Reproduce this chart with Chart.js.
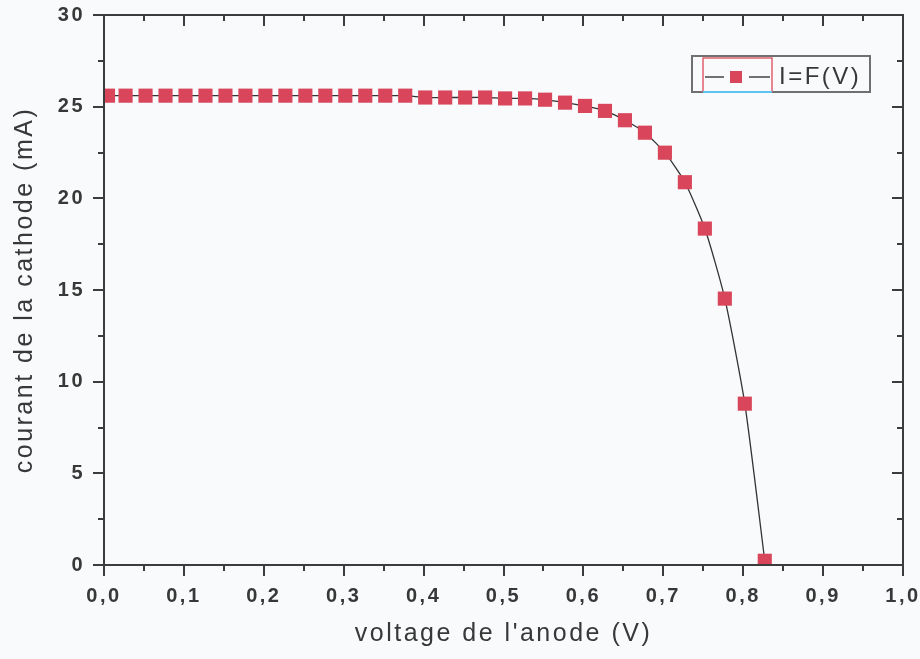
<!DOCTYPE html>
<html>
<head>
<meta charset="utf-8">
<script src="https://cdn.jsdelivr.net/npm/chart.js@4/dist/chart.umd.min.js"></script>
<style>
  html, body { margin: 0; padding: 0; background: #f9fafb; }
  #wrap { width: 920px; height: 659px; }
</style>
</head>
<body>
<div id="wrap"><canvas id="c" width="920" height="659"></canvas></div>
<script>
// ---- data ----
const volts = [0.005, 0.027, 0.052, 0.077, 0.102, 0.127, 0.152, 0.177, 0.202, 0.227,
               0.252, 0.277, 0.302, 0.327, 0.352, 0.377, 0.402, 0.427, 0.452, 0.477,
               0.502, 0.527, 0.552, 0.577, 0.602, 0.627, 0.652, 0.677, 0.702, 0.727,
               0.752, 0.777, 0.802, 0.827];
const current = [25.6, 25.6, 25.6, 25.6, 25.6, 25.6, 25.6, 25.6, 25.6, 25.6,
                 25.6, 25.6, 25.6, 25.6, 25.6, 25.6, 25.5, 25.5, 25.5, 25.5,
                 25.45, 25.45, 25.38, 25.22, 25.04, 24.77, 24.26, 23.58, 22.49, 20.88,
                 18.35, 14.53, 8.80, 0.23];
const xTickLabels = ['0,0','0,1','0,2','0,3','0,4','0,5','0,6','0,7','0,8','0,9','1,0'];
const yTickLabels = ['0','5','10','15','20','25','30'];
const seriesName = 'I=F(V)';
const xTitle = "voltage de l'anode (V)";
const yTitle = 'courant de la cathode (mA)';

const TEXT = '#383838';
const AXIS = '#3c3c3c';
const RED = '#d9465b';

const spacingPlugin = {
  id: 'spacing',
  beforeLayout(chart) { chart.ctx.letterSpacing = '2.5px'; },
  beforeDraw(chart) {
    const ctx = chart.ctx;
    ctx.letterSpacing = '2.5px';
    ctx.save();
    ctx.fillStyle = '#f9fafb';
    ctx.fillRect(0, 0, chart.width, chart.height);
    ctx.restore();
  }
};

const framePlugin = {
  id: 'frame',
  afterDatasetsDraw(chart) {
    const ctx = chart.ctx;
    const xs = chart.scales.x, ys = chart.scales.y;
    const a = chart.chartArea;
    const MAJ = 11, MIN = 6;
    ctx.save();
    ctx.strokeStyle = AXIS;
    ctx.lineWidth = 2;
    ctx.lineCap = 'butt';
    ctx.beginPath();
    ctx.rect(a.left, a.top, a.right - a.left, a.bottom - a.top);
    ctx.stroke();
    const xt = xs.ticks.map(t => t.value);
    const yt = ys.ticks.map(t => t.value);
    ctx.beginPath();
    xt.forEach((v, i) => {
      const px = Math.round(xs.getPixelForValue(v));
      ctx.moveTo(px, a.bottom); ctx.lineTo(px, a.bottom + MAJ);
      ctx.moveTo(px, a.top); ctx.lineTo(px, a.top + MAJ);
      if (i < xt.length - 1) {
        const m = Math.round(xs.getPixelForValue((v + xt[i + 1]) / 2));
        ctx.moveTo(m, a.bottom); ctx.lineTo(m, a.bottom + MIN);
        ctx.moveTo(m, a.top); ctx.lineTo(m, a.top + MIN);
      }
    });
    yt.forEach((v, i) => {
      const py = Math.round(ys.getPixelForValue(v));
      ctx.moveTo(a.left, py); ctx.lineTo(a.left - MAJ, py);
      ctx.moveTo(a.right, py); ctx.lineTo(a.right - MAJ, py);
      if (i < yt.length - 1) {
        const m = Math.round(ys.getPixelForValue((v + yt[i + 1]) / 2));
        ctx.moveTo(a.left, m); ctx.lineTo(a.left - MIN, m);
        ctx.moveTo(a.right, m); ctx.lineTo(a.right - MIN, m);
      }
    });
    ctx.stroke();
    ctx.restore();
  }
};

const legendPlugin = {
  id: 'boxLegend',
  afterDraw(chart) {
    const ctx = chart.ctx;
    ctx.save();
    ctx.strokeStyle = '#707070';
    ctx.lineWidth = 2;
    ctx.strokeRect(692, 56, 178, 36);
    ctx.strokeStyle = '#e0606e';
    ctx.lineWidth = 1.5;
    ctx.beginPath();
    ctx.moveTo(703, 92); ctx.lineTo(703, 58); ctx.lineTo(772, 58); ctx.lineTo(772, 92);
    ctx.stroke();
    ctx.strokeStyle = '#5ec3ee';
    ctx.lineWidth = 2;
    ctx.beginPath();
    ctx.moveTo(703, 92); ctx.lineTo(772, 92);
    ctx.stroke();
    ctx.strokeStyle = '#444';
    ctx.lineWidth = 1.5;
    ctx.beginPath();
    ctx.moveTo(705, 77); ctx.lineTo(724, 77);
    ctx.moveTo(749, 77); ctx.lineTo(770, 77);
    ctx.stroke();
    ctx.fillStyle = RED;
    ctx.fillRect(730, 71, 12, 12);
    ctx.letterSpacing = '2.5px';
    ctx.fillStyle = TEXT;
    ctx.font = '24px "Liberation Sans", Arial, sans-serif';
    ctx.textBaseline = 'middle';
    ctx.textAlign = 'left';
    ctx.fillText(seriesName, 779, 77);
    ctx.restore();
  }
};

new Chart(document.getElementById('c'), {
  type: 'line',
  data: {
    datasets: [{
      label: seriesName,
      data: volts.map((v, i) => ({ x: v, y: current[i] })),
      borderColor: '#333',
      borderWidth: 1.3,
      tension: 0.2,
      pointStyle: 'rect',
      pointRadius: 10,
      pointHoverRadius: 10,
      pointBackgroundColor: RED,
      pointBorderWidth: 0,
      fill: false
    }]
  },
  options: {
    responsive: false,
    animation: false,
    devicePixelRatio: 1,
    layout: { padding: { left: 10, top: 15, right: 17, bottom: 10 } },
    plugins: { legend: { display: false }, tooltip: { enabled: false } },
    scales: {
      x: {
        type: 'linear', min: 0, max: 1,
        grid: { display: false, drawTicks: false },
        border: { display: false },
        ticks: {
          stepSize: 0.1, maxRotation: 0, autoSkip: false, padding: 19,
          color: TEXT,
          font: { family: '"Liberation Sans", Arial, sans-serif', size: 20, weight: 'bold' },
          callback: (v, i) => xTickLabels[i]
        },
        title: {
          display: true, text: xTitle, color: TEXT, padding: 0,
          font: { family: '"Liberation Sans", Arial, sans-serif', size: 25, weight: 'normal' }
        },
        afterFit: s => { s.height = 84; s.paddingLeft = 0; s.paddingRight = 0; }
      },
      y: {
        type: 'linear', min: 0, max: 30,
        grid: { display: false, drawTicks: false },
        border: { display: false },
        ticks: {
          stepSize: 5, padding: 19,
          color: TEXT,
          font: { family: '"Liberation Sans", Arial, sans-serif', size: 20, weight: 'bold' },
          callback: (v, i) => yTickLabels[i]
        },
        title: {
          display: true, text: yTitle, color: TEXT, padding: 0,
          font: { family: '"Liberation Sans", Arial, sans-serif', size: 25, weight: 'normal' }
        },
        afterFit: s => { s.width = 94; s.paddingTop = 0; s.paddingBottom = 0; }
      }
    }
  },
  plugins: [spacingPlugin, framePlugin, legendPlugin]
});
</script>
</body>
</html>
